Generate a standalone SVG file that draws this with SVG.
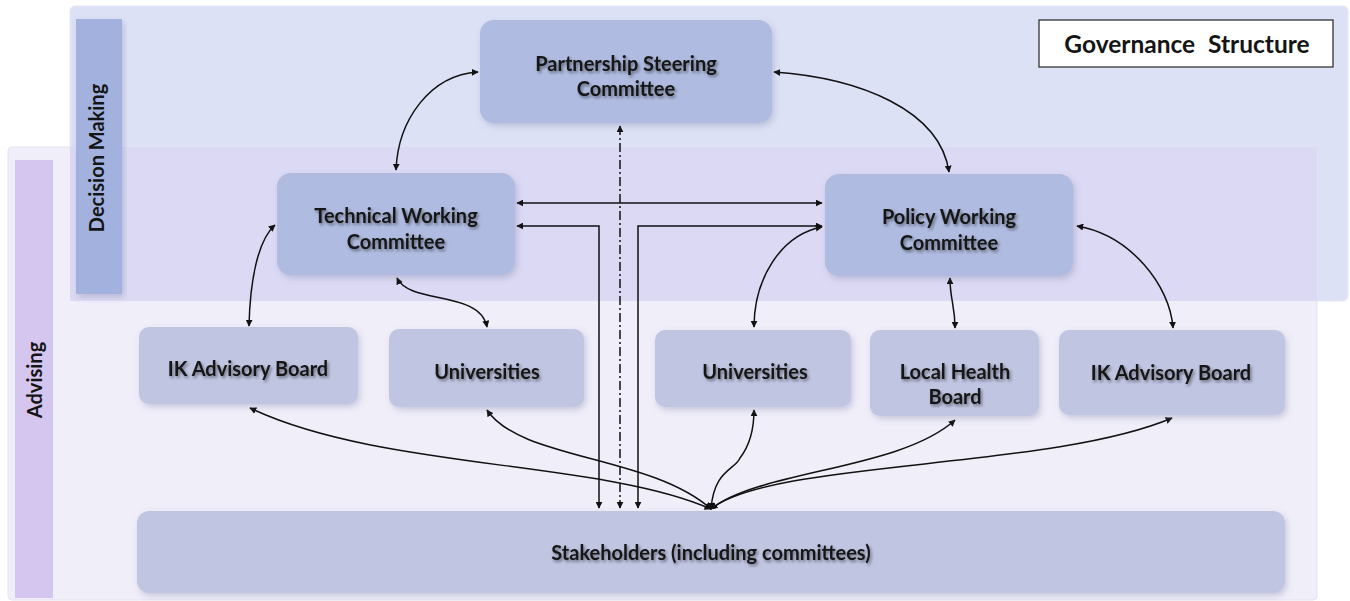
<svg xmlns="http://www.w3.org/2000/svg" width="1350" height="601" viewBox="0 0 1350 601">
  <defs>
    <style>
      .lbl { font-family: Lato, "Open Sans", "Liberation Sans", sans-serif; font-weight: 700; fill: #151515; text-anchor: middle; }
      .node-lbl { font-size: 20px; filter: url(#txtShadow); }
      .band-lbl { font-size: 20px; }
      .top { fill: #afbbe0; }
      .low { fill: #c0c5e2; }
      .conn { fill: none; stroke: #111; stroke-width: 1.5; marker-start: url(#arr); marker-end: url(#arr); }
      .dashdot { stroke-dasharray: 9 3 2 3; }
    </style>
    <marker id="arr" viewBox="0 0 10 10" refX="9" refY="5" markerWidth="7" markerHeight="7" markerUnits="userSpaceOnUse" orient="auto-start-reverse">
      <path d="M0,0 L10,5 L0,10 z" fill="#111"/>
    </marker>
    <filter id="boxShadow" x="-10%" y="-10%" width="120%" height="130%">
      <feDropShadow dx="2" dy="3" stdDeviation="3" flood-color="#6a6f9a" flood-opacity="0.3"/>
    </filter>
    <filter id="txtShadow" x="-10%" y="-30%" width="120%" height="170%">
      <feDropShadow dx="1.5" dy="2" stdDeviation="1.6" flood-color="#000" flood-opacity="0.45"/>
    </filter>
  </defs>

  <rect width="1350" height="601" fill="#ffffff"/>

  <!-- Bands: decision making (top) and advising (bottom) -->
  <g id="bands">
    <rect x="70" y="6" width="1278" height="295" rx="5" fill="#dce1f5" stroke="#e6e8f4"/>
    <rect x="8" y="147" width="1309" height="453" rx="4" fill="#f0eef9" stroke="#e3e2ee"/>
    <rect x="70" y="147" width="1247" height="154" fill="#dbd9f3"/>
    <rect x="76" y="19" width="46" height="275" fill="#a3b1df" filter="url(#boxShadow)"/>
    <rect x="15" y="160" width="38" height="438" fill="#d5c6ef"/>
    <text class="lbl band-lbl" transform="translate(104 158) rotate(-90)">Decision Making</text>
    <text class="lbl band-lbl" transform="translate(42 380) rotate(-90)">Advising</text>
  </g>

  <g id="title">
    <rect x="1039" y="20" width="294" height="47" fill="#ffffff" stroke="#333" stroke-width="1.3"/>
    <text class="lbl" x="1187" y="53" font-size="24.5" word-spacing="7">Governance Structure</text>
  </g>

  <!-- Connectors -->
  <g id="connectors">
    <path class="conn" d="M478 72 C430 75 398 120 396 170"/>
    <path class="conn" d="M774 72 C860 78 940 110 949 172"/>
    <path class="conn" d="M517 203 H822"/>
    <path class="conn" d="M517 226 H599 V508"/>
    <path class="conn" d="M822 226 H638 V508"/>
    <path class="conn dashdot" d="M620 126 V508"/>
    <path class="conn" d="M275 225 C258 240 250 280 249 326"/>
    <path class="conn" d="M397 278 C410 305 480 290 487 327"/>
    <path class="conn" d="M822 227 C780 235 754 280 754 327"/>
    <path class="conn" d="M950 278 C950 300 955 305 955 328"/>
    <path class="conn" d="M1077 226 C1130 235 1170 285 1173 328"/>
    <path class="conn" d="M711 509 C600 460 380 470 250 408"/>
    <path class="conn" d="M711 509 C650 455 520 460 487 410"/>
    <path class="conn" d="M711 509 C714 470 735 470 740 458 C750 445 754 430 754 410"/>
    <path class="conn" d="M711 509 C760 470 900 470 955 420"/>
    <path class="conn" d="M711 509 C770 460 1050 470 1172 418"/>
  </g>

  <g id="partnership-steering">
    <rect class="top" x="480" y="20" width="292" height="103" rx="14" filter="url(#boxShadow)"/>
    <text class="lbl node-lbl" x="626" y="71">Partnership Steering</text>
    <text class="lbl node-lbl" x="626" y="96">Committee</text>
  </g>

  <g id="technical-working">
    <rect class="top" x="277" y="173" width="238" height="102" rx="14" filter="url(#boxShadow)"/>
    <text class="lbl node-lbl" x="396" y="223">Technical Working</text>
    <text class="lbl node-lbl" x="396" y="249">Committee</text>
  </g>

  <g id="policy-working">
    <rect class="top" x="825" y="174" width="248" height="102" rx="14" filter="url(#boxShadow)"/>
    <text class="lbl node-lbl" x="949" y="224">Policy Working</text>
    <text class="lbl node-lbl" x="949" y="250">Committee</text>
  </g>

  <g id="ik-advisory-left">
    <rect class="low" x="139" y="327" width="219" height="77" rx="10" filter="url(#boxShadow)"/>
    <text class="lbl node-lbl" x="248" y="376">IK Advisory Board</text>
  </g>

  <g id="universities-left">
    <rect class="low" x="389" y="329" width="195" height="78" rx="10" filter="url(#boxShadow)"/>
    <text class="lbl node-lbl" x="487" y="379">Universities</text>
  </g>

  <g id="universities-right">
    <rect class="low" x="655" y="330" width="196" height="77" rx="10" filter="url(#boxShadow)"/>
    <text class="lbl node-lbl" x="755" y="379">Universities</text>
  </g>

  <g id="local-health-board">
    <rect class="low" x="870" y="330" width="169" height="86" rx="10" filter="url(#boxShadow)"/>
    <text class="lbl node-lbl" x="955" y="379">Local Health</text>
    <text class="lbl node-lbl" x="955" y="404">Board</text>
  </g>

  <g id="ik-advisory-right">
    <rect class="low" x="1059" y="330" width="226" height="85" rx="10" filter="url(#boxShadow)"/>
    <text class="lbl node-lbl" x="1171" y="380">IK Advisory Board</text>
  </g>

  <g id="stakeholders">
    <rect class="low" x="137" y="511" width="1148" height="82" rx="12" filter="url(#boxShadow)"/>
    <text class="lbl node-lbl" x="711" y="560">Stakeholders (including committees)</text>
  </g>
</svg>
